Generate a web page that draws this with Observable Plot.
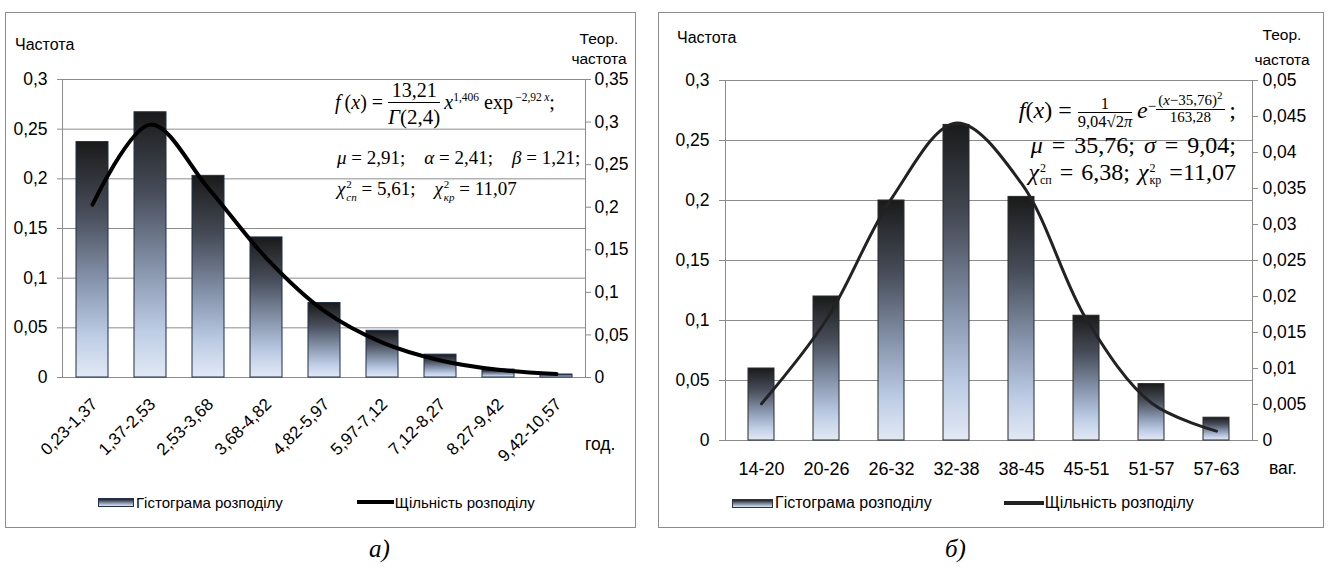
<!DOCTYPE html>
<html><head><meta charset="utf-8">
<script src="https://cdn.jsdelivr.net/npm/d3@7"></script>
<script src="https://cdn.jsdelivr.net/npm/@observablehq/plot@0.6"></script>
<style>
body{margin:0;background:#fff;}
#wrap{position:relative;width:1330px;height:568px;overflow:hidden;background:#fff;font-family:"Liberation Sans",Arial,sans-serif;color:#000}
.box{position:absolute;box-sizing:border-box;border:1px solid #8c8c8c;}
.pl{position:absolute;}
.abs{position:absolute;white-space:nowrap;line-height:1}
.ttl{font-size:16px}
.tt2{font-size:15.5px;text-align:center;line-height:20px;width:70px}
.math{font-family:"Liberation Serif","Times New Roman",serif;}
.frac{display:inline-block;vertical-align:middle;text-align:center;line-height:1.05}
.frac>span{display:block}
.frac .n{border-bottom:1px solid #000;padding:0 2px}
.ss{display:inline-block;vertical-align:middle;font-size:11px;line-height:1.15;text-align:left;margin-left:1px}
.ss>span{display:block}
.leg{position:absolute;display:flex;align-items:center;white-space:nowrap;height:20px}
.sw{display:inline-block;height:9px;border:1px solid #1f2f4f;background:linear-gradient(#1e1e1e,#8a98b0 60%,#dce6f4);box-sizing:border-box;margin-right:2px}
.ln{display:inline-block;height:4px;background:#000;margin-right:1px}
.cap{position:absolute;font-family:"Liberation Serif",serif;font-style:italic;font-size:25px;line-height:1}
sup{font-size:11px}
.rf{font-size:24px;text-align:right}
.rf .ss{font-size:12px;line-height:1}
</style></head>
<body>
<div id="wrap">
  <div class="box" style="left:5px;top:12px;width:631px;height:516px"></div>
  <div class="box" style="left:658px;top:12px;width:666px;height:516px"></div>
  <div id="pa" class="pl" style="left:5px;top:12px"></div>
  <div id="pb" class="pl" style="left:658px;top:12px"></div>

  <!-- chart a titles -->
  <div class="abs ttl" style="left:15px;top:37px">Частота</div>
  <div class="abs tt2" style="left:564px;top:29px">Теор.<br>частота</div>
  <div class="abs" style="left:585px;top:436px;font-size:17.5px">год.</div>

  <!-- chart a formula -->
  <div class="abs math" style="left:335px;top:80px;font-size:20px"><i>f</i>&thinsp;(<i>x</i>) = <span class="frac"><span class="n" style="padding-bottom:1px">13,21</span><span style="font-size:21px;padding-top:3px"><i>Γ</i>(2,4)</span></span>&thinsp;<i>x</i><sup style="font-size:11.5px">1,406</sup> exp<sup style="font-size:11.5px">&thinsp;−2,92&thinsp;<i>x</i></sup>;</div>
  <div class="abs math" style="left:337px;top:148px;font-size:19px"><i>μ</i> = 2,91;&ensp;&nbsp; <i>α</i> = 2,41;&ensp;&nbsp; <i>β</i> = 1,21;</div>
  <div class="abs math" style="left:337px;top:178px;font-size:19px"><i>χ</i><span class="ss"><span>2</span><span><i>сп</i></span></span> = 5,61;&ensp;&nbsp; <i>χ</i><span class="ss"><span>2</span><span><i>кр</i></span></span> = 11,07</div>

  <!-- chart a legend -->
  <div class="leg" style="left:98px;top:492px;font-size:15px"><span class="sw" style="width:36px"></span>Гістограма розподілу<span style="display:inline-block;width:74px"></span><span class="ln" style="width:37px"></span>Щільність розподілу</div>

  <!-- chart b titles -->
  <div class="abs tt2" style="left:1247px;top:22px;line-height:25px">Теор.<br>частота</div>
  <div class="abs ttl" style="left:677px;top:30px">Частота</div>
  <div class="abs" style="left:1269px;top:460px;font-size:17.5px">ваг.</div>

  <!-- chart b formula -->
  <div class="abs math rf" style="right:94px;top:90px"><i>f</i>(<i>x</i>) = <span class="frac" style="font-size:16.5px"><span class="n">1</span><span>9,04√2<i>π</i></span></span>&thinsp;<i>e</i><span style="display:inline-block;vertical-align:0.45em;font-size:15px">−<span class="frac"><span class="n">(<i>x</i>−35,76)<sup style="font-size:11px">2</sup></span><span>163,28</span></span></span>&thinsp;;</div>
  <div class="abs math rf" style="right:94px;top:133px;word-spacing:3px"><i>μ</i> = 35,76; <i>σ</i> = 9,04;</div>
  <div class="abs math rf" style="right:94px;top:160px;word-spacing:2px"><i>χ</i><span class="ss"><span>2</span><span>сп</span></span> = 6,38; <i>χ</i><span class="ss"><span>2</span><span>кр</span></span> =11,07</div>

  <!-- chart b legend -->
  <div class="leg" style="left:732px;top:493px;font-size:16px"><span class="sw" style="border-color:#333;width:41px"></span>Гістограма розподілу<span style="display:inline-block;width:72px"></span><span class="ln" style="width:40px;background:#222"></span>Щільність розподілу</div>

  <div class="cap" style="left:369px;top:536px">а)</div>
  <div class="cap" style="left:945px;top:536px">б)</div>
</div>
<script>
// ---------- data: chart а) ----------
const catsA = ["0,23-1,37","1,37-2,53","2,53-3,68","3,68-4,82","4,82-5,97","5,97-7,12","7,12-8,27","8,27-9,42","9,42-10,57"];
const freqA = [0.237, 0.267, 0.203, 0.141, 0.075, 0.047, 0.023, 0.008, 0.003];
const theorA = [0.203, 0.297, 0.222, 0.140, 0.078, 0.041, 0.020, 0.009, 0.004];
const leftTicksA = [0, 0.05, 0.1, 0.15, 0.2, 0.25, 0.3];
const rightTicksA = [0, 0.05, 0.1, 0.15, 0.2, 0.25, 0.3, 0.35];

// ---------- data: chart б) ----------
const catsB = ["14-20","20-26","26-32","32-38","38-45","45-51","51-57","57-63"];
const freqB = [0.060, 0.120, 0.200, 0.263, 0.203, 0.104, 0.047, 0.019];
const theorB = [0.0051, 0.0168, 0.0336, 0.0441, 0.0357, 0.0168, 0.0052, 0.0013];
const leftTicksB = [0, 0.05, 0.1, 0.15, 0.2, 0.25, 0.3];
const rightTicksB = [0, 0.005, 0.01, 0.015, 0.02, 0.025, 0.03, 0.035, 0.04, 0.045, 0.05];

const comma = v => String(+(+v).toFixed(4)).replace(".", ",");
const gradStops = [[0, "#1a1a1a"], [0.3, "#464c58"], [0.6, "#8896ae"], [0.82, "#bccbe4"], [1, "#e2e9f5"]];
function gradDefs(id) {
  return () => {
    const defs = d3.create("svg:defs");
    const g = defs.append("linearGradient").attr("id", id)
      .attr("x1", 0).attr("y1", 0).attr("x2", 0).attr("y2", 1);
    for (const [o, c] of gradStops) g.append("stop").attr("offset", o).attr("stop-color", c);
    return defs.node();
  };
}
const style = {background: "transparent", fontFamily: "'Liberation Sans', Arial, sans-serif", fontSize: "17px", color: "#000", overflow: "visible"};
const grey = "#8c8c8c";

// chart а)
const kA = 0.3 / 0.35;
const dataA = catsA.map((c, i) => ({cat: c, freq: freqA[i], theor: theorA[i]}));
const plotA = Plot.plot({
  width: 631, height: 516,
  marginLeft: 57, marginRight: 51, marginTop: 67, marginBottom: 151,
  style,
  x: {type: "band", domain: catsA, paddingInner: 0.45, paddingOuter: 0.225, axis: null},
  y: {domain: [0, 0.3], axis: null},
  marks: [
    gradDefs("gA"),
    Plot.gridY(leftTicksA, {stroke: grey, strokeOpacity: 1}),
    Plot.frame({stroke: grey}),
    Plot.axisY(leftTicksA, {anchor: "left", label: null, tickSize: 5, tickPadding: 10, stroke: grey, tickFormat: comma, fontSize: 17.5}),
    Plot.axisY(rightTicksA.map(v => v * kA), {anchor: "right", label: null, tickSize: 5, tickPadding: 4, stroke: grey, tickFormat: d => comma(d / kA), fontSize: 17.5}),
    Plot.barY(dataA, {x: "cat", y: "freq", fill: "url(#gA)", stroke: "#1f2f4f", strokeWidth: 1}),
    Plot.line(dataA, {x: "cat", y: d => d.theor * kA, curve: "catmull-rom", stroke: "#000", strokeWidth: 4}),
    Plot.text(dataA, {x: "cat", y: d => 0, text: "cat", rotate: -45, textAnchor: "end", dx: 2, dy: 24, fontSize: 17})
  ]
});
document.getElementById("pa").append(plotA);

// chart б)
const kB = 0.3 / 0.05;
const dataB = catsB.map((c, i) => ({cat: c, freq: freqB[i], theor: theorB[i]}));
const plotB = Plot.plot({
  width: 666, height: 516,
  marginLeft: 67, marginRight: 72, marginTop: 68, marginBottom: 88,
  style,
  x: {type: "band", domain: catsB, paddingInner: 0.6, paddingOuter: 0.3, axis: null},
  y: {domain: [0, 0.3], axis: null},
  marks: [
    gradDefs("gB"),
    Plot.gridY(leftTicksB, {stroke: grey, strokeOpacity: 1}),
    Plot.frame({stroke: grey}),
    Plot.axisY(leftTicksB, {anchor: "left", label: null, tickSize: 6, tickPadding: 10, stroke: grey, tickFormat: comma, fontSize: 17.5}),
    Plot.axisY(rightTicksB.map(v => v * kB), {anchor: "right", label: null, tickSize: 5, tickPadding: 5, stroke: grey, tickFormat: d => comma(d / kB), fontSize: 17.5}),
    Plot.barY(dataB, {x: "cat", y: "freq", fill: "url(#gB)", stroke: "#2a2a2a", strokeWidth: 1}),
    Plot.line(dataB, {x: "cat", y: d => d.theor * kB, curve: "catmull-rom", stroke: "#222", strokeWidth: 3}),
    Plot.text(dataB, {x: "cat", y: d => 0, text: "cat", dy: 29, fontSize: 18})
  ]
});
document.getElementById("pb").append(plotB);
</script>
</body></html>
